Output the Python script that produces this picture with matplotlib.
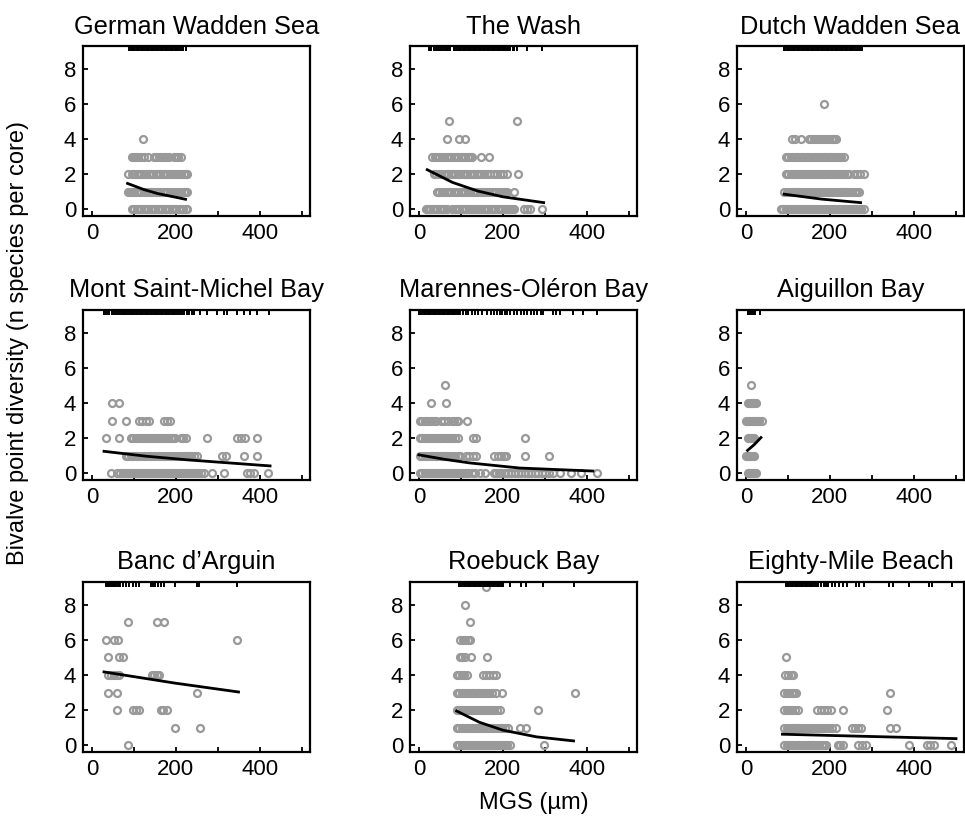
import matplotlib
matplotlib.use("Agg")
import matplotlib.pyplot as plt

plt.rcParams['font.family'] = ['Liberation Sans', 'DejaVu Sans']

# ---- data: MGS values (um) per diversity level (index = n species per core)
german_mgs = [
    [96, 101, 107, 112, 118, 123, 129, 134, 140, 145, 151, 157, 162, 168, 173, 179, 184, 190, 196, 201, 207, 212, 218, 223, 227],
    [85, 90, 96, 101, 107, 113, 118, 124, 129, 135, 141, 146, 152, 157, 163, 169, 174, 180, 185, 191, 197, 202, 208, 213, 219, 224, 227],
    [85, 96, 101, 107, 113, 118, 124, 129, 135, 141, 146, 152, 157, 163, 169, 174, 180, 185, 191, 197, 202, 208, 213, 219, 224, 227],
    [96, 101, 106, 111, 117, 124, 133, 148, 153, 159, 165, 171, 177, 183, 195, 200, 205, 211],
    [122],
]
german_rug = [89, 92, 95, 98, 101, 104, 107, 110, 113, 116, 119, 122, 125, 128, 131, 134, 137, 140, 143, 146, 149, 152,
              155, 158, 161, 164, 167, 170, 173, 176, 179, 182, 185, 188, 191, 194, 197, 200, 203, 206, 210, 214, 218, 223]
german_fit_x = [85, 124, 156, 223]
german_fit_y = [1.47, 1.12, 0.90, 0.57]

wash_mgs = [
    [16, 22, 27, 33, 38, 44, 50, 55, 61, 67, 79, 85, 91, 96, 102, 108, 113, 119, 125, 131, 136, 142, 148, 154, 159, 165,
     171, 176, 182, 188, 193, 199, 205, 211, 217, 222, 226, 250, 258, 265, 293],
    [44, 49, 55, 60, 66, 72, 77, 83, 88, 94, 100, 105, 111, 117, 122, 128, 133, 139, 145, 150, 156, 162, 167, 173, 178,
     184, 190, 195, 201, 206, 210, 226],
    [36, 42, 47, 53, 59, 64, 70, 76, 81, 87, 93, 98, 104, 110, 115, 121, 127, 132, 138, 144, 149, 155, 161, 170, 178, 186,
     193, 201, 210, 237],
    [32, 38, 43, 49, 55, 60, 66, 72, 77, 83, 89, 94, 100, 106, 111, 117, 122, 127, 147, 166],
    [68, 95, 110],
    [71, 234],
]
wash_rug = [24, 27, 30, 36, 40, 45, 49, 53, 58, 62, 66, 70, 75, 83, 86, 89, 92, 95, 98, 101, 104, 107, 110, 113, 116, 119,
            122, 125, 128, 131, 134, 137, 140, 143, 146, 149, 152, 155, 158, 161, 164, 167, 170, 173, 176, 179, 182, 185,
            188, 191, 194, 197, 200, 203, 206, 209, 212, 215, 218, 223, 227, 234, 257, 293]
wash_fit_x = [20, 80, 140, 200, 297]
wash_fit_y = [2.25, 1.53, 1.04, 0.71, 0.38]

dutch_mgs = [
    [83, 89, 95, 101, 107, 113, 119, 125, 131, 137, 143, 149, 155, 161, 167, 173, 179, 185, 191, 197, 203, 209, 215, 221,
     227, 233, 239, 245, 251, 257, 263, 269, 275, 281],
    [91, 97, 103, 109, 115, 121, 127, 133, 139, 145, 151, 157, 163, 169, 175, 181, 187, 193, 199, 205, 211, 217, 223, 229,
     235, 241, 247, 253, 259, 265, 269],
    [95, 101, 107, 113, 119, 125, 131, 137, 143, 149, 155, 161, 167, 173, 179, 185, 191, 197, 203, 209, 215, 221, 227, 233,
     240, 246, 257, 264, 272, 281],
    [95, 101, 107, 113, 119, 125, 131, 137, 143, 149, 155, 161, 167, 173, 179, 185, 191, 197, 203, 209, 215, 221, 227, 234],
    [111, 118, 131, 150, 156, 162, 168, 174, 180, 186, 192, 198, 204, 210, 214],
    [],
    [186],
]
dutch_rug = [91, 94, 97, 100, 103, 106, 109, 112, 115, 118, 121, 124, 127, 130, 133, 136, 139, 142, 145, 148, 151, 154, 157,
             160, 163, 166, 169, 172, 175, 178, 181, 184, 187, 190, 193, 196, 199, 202, 205, 208, 211, 214, 217, 220, 223,
             226, 229, 232, 235, 238, 241, 244, 247, 250, 253, 256, 260, 264, 268, 272, 277]
dutch_fit_x = [91, 180, 273]
dutch_fit_y = [0.86, 0.58, 0.38]

msm_mgs = [
    [45, 61, 67, 73, 79, 85, 91, 97, 103, 109, 115, 121, 127, 133, 139, 145, 151, 157, 163, 169, 175, 181, 187, 193, 199,
     205, 211, 217, 223, 229, 235, 241, 247, 253, 259, 266, 286, 314, 369, 377, 385, 420],
    [81, 87, 93, 99, 105, 111, 117, 123, 129, 135, 141, 147, 153, 159, 165, 171, 177, 183, 189, 195, 201, 207, 213, 219,
     225, 231, 237, 243, 251, 310, 320, 361, 393],
    [33, 65, 92, 98, 104, 110, 116, 122, 128, 134, 140, 146, 152, 158, 164, 170, 176, 182, 188, 194, 199, 211, 217, 223,
     274, 345, 355, 365, 393],
    [49, 81, 112, 120, 128, 136, 172, 180, 187],
    [49, 65],
]
msm_rug = [29, 33, 38, 42, 48, 52, 57, 62, 66, 72, 76, 80, 84, 88, 92, 96, 100, 104, 108, 112, 116, 120, 124, 128, 132, 136,
           140, 144, 148, 152, 156, 160, 164, 168, 172, 176, 180, 184, 188, 192, 196, 200, 205, 210, 215, 220, 226, 232,
           238, 243, 258, 274, 298, 314, 322, 346, 361, 377, 393, 421]
msm_fit_x = [29, 130, 230, 424]
msm_fit_y = [1.25, 0.97, 0.76, 0.42]

marennes_mgs = [
    [2, 8, 14, 20, 26, 32, 38, 44, 50, 56, 62, 68, 74, 80, 86, 92, 98, 104, 112, 118, 126, 134, 146, 158, 178, 184, 190,
     196, 204, 212, 220, 228, 236, 244, 252, 260, 268, 276, 284, 292, 300, 310, 320, 335, 363, 386, 425],
    [2, 8, 14, 20, 26, 32, 38, 44, 50, 56, 62, 68, 74, 80, 86, 92, 97, 113, 120, 130, 137, 180, 188, 196, 203, 208, 252,
     309],
    [2, 8, 14, 20, 26, 32, 38, 44, 50, 56, 62, 68, 74, 80, 86, 93, 129, 137, 252],
    [2, 8, 14, 20, 26, 32, 38, 41, 53, 60, 70, 78, 84, 90, 93, 114],
    [29, 65],
    [63],
]
marennes_rug = [0, 3, 6, 9, 12, 15, 18, 21, 24, 27, 30, 33, 36, 39, 42, 45, 48, 51, 54, 57, 60, 63, 66, 69, 72, 75, 78, 81,
                84, 87, 90, 93, 96, 99, 104, 112, 118, 126, 134, 140, 150, 162, 172, 180, 186, 192, 198, 204, 210, 218,
                226, 234, 242, 250, 258, 266, 274, 282, 290, 296, 318, 327, 335, 367, 391, 425]
marennes_fit_x = [0, 60, 121, 240, 414]
marennes_fit_y = [1.05, 0.80, 0.59, 0.30, 0.13]

aiguillon_mgs = [
    [4, 8, 12, 16, 20, 24],
    [0, 4, 8, 12, 16, 20],
    [4, 8, 12, 16, 20],
    [0, 4, 8, 12, 16, 20, 24, 28, 32, 38],
    [4, 8, 12, 16, 20, 24],
    [12],
]
aiguillon_rug = [4, 6, 8, 10, 12, 14, 16, 18, 20, 22, 34]
aiguillon_fit_x = [4, 20, 36]
aiguillon_fit_y = [1.30, 1.63, 2.03]

banc_mgs = [
    [87],
    [197, 257],
    [61, 97, 104, 112, 164, 170, 178],
    [39, 59, 249],
    [38, 45, 52, 60, 65, 142, 148, 155, 160],
    [39, 65, 73],
    [33, 53, 63, 346],
    [86, 155, 171],
]
banc_rug = [33, 35, 37, 39, 41, 43, 45, 47, 50, 53, 56, 60, 64, 68, 73, 81, 89, 97, 105, 112, 140, 145, 150, 158, 165, 172,
            199, 250, 254, 346]
banc_fit_x = [29, 199, 349]
banc_fit_y = [4.17, 3.53, 3.03]

roebuck_mgs = [
    [90, 96, 102, 108, 114, 120, 126, 132, 138, 144, 150, 156, 162, 168, 174, 180, 186, 192, 198, 204, 210, 216, 298],
    [90, 96, 102, 108, 114, 120, 126, 132, 138, 144, 150, 156, 162, 168, 174, 180, 186, 192, 198, 204, 212, 240, 256],
    [90, 96, 102, 108, 114, 120, 126, 132, 138, 144, 150, 156, 162, 168, 174, 180, 186, 193, 283],
    [90, 96, 102, 108, 114, 120, 126, 132, 138, 144, 150, 156, 162, 168, 174, 183, 198, 372],
    [90, 96, 102, 108, 114, 152, 160, 168, 176, 183],
    [97, 103, 109, 123, 162],
    [98, 104, 110, 116, 121],
    [122],
    [109],
    [160],
]
roebuck_rug = [95, 98, 101, 104, 107, 110, 113, 116, 119, 122, 125, 128, 131, 134, 137, 140, 143, 146, 149, 152, 155, 158,
               161, 164, 167, 170, 173, 176, 179, 182, 185, 188, 191, 194, 197, 200, 216, 244, 256, 295, 368]
roebuck_fit_x = [90, 144, 200, 280, 368]
roebuck_fit_y = [1.95, 1.31, 0.86, 0.48, 0.25]

eighty_mgs = [
    [91, 97, 103, 109, 115, 121, 127, 133, 139, 145, 151, 157, 163, 169, 175, 181, 187, 190, 220, 225, 230, 268, 276, 285,
     387, 431, 439, 447, 489],
    [91, 97, 103, 109, 115, 121, 127, 133, 139, 145, 151, 157, 163, 169, 175, 181, 187, 193, 199, 205, 214, 252, 260, 268,
     275, 342, 358],
    [91, 97, 103, 109, 116, 123, 170, 178, 186, 194, 202, 232, 337],
    [91, 97, 103, 109, 115, 119, 342],
    [93, 100, 107, 113],
    [95],
]
eighty_rug = [95, 98, 101, 104, 107, 110, 113, 116, 119, 122, 125, 128, 131, 134, 137, 140, 143, 146, 149, 152, 155, 158,
              161, 166, 172, 178, 185, 190, 196, 205, 212, 222, 230, 240, 262, 270, 281, 341, 349, 388, 436, 444, 491]
eighty_fit_x = [87, 300, 500]
eighty_fit_y = [0.63, 0.50, 0.38]

titles = ["German Wadden Sea", "The Wash", "Dutch Wadden Sea",
          "Mont Saint-Michel Bay", "Marennes-Ol\u00e9ron Bay", "Aiguillon Bay",
          "Banc d\u2019Arguin", "Roebuck Bay", "Eighty-Mile Beach"]
panels = [
    (german_mgs, german_rug, german_fit_x, german_fit_y),
    (wash_mgs, wash_rug, wash_fit_x, wash_fit_y),
    (dutch_mgs, dutch_rug, dutch_fit_x, dutch_fit_y),
    (msm_mgs, msm_rug, msm_fit_x, msm_fit_y),
    (marennes_mgs, marennes_rug, marennes_fit_x, marennes_fit_y),
    (aiguillon_mgs, aiguillon_rug, aiguillon_fit_x, aiguillon_fit_y),
    (banc_mgs, banc_rug, banc_fit_x, banc_fit_y),
    (roebuck_mgs, roebuck_rug, roebuck_fit_x, roebuck_fit_y),
    (eighty_mgs, eighty_rug, eighty_fit_x, eighty_fit_y),
]

fig = plt.figure(figsize=(9.65, 8.23), dpi=100)
W, H = 965.0, 823.0
col_left = [83, 410, 737]
row_top = [46, 310, 582]
ax_w, ax_h = 227, 170

ylo, yhi = -0.38, 9.28
for i, (title, (mgs, rug, fx, fy)) in enumerate(zip(titles, panels)):
    r, c = divmod(i, 3)
    ax = fig.add_axes([col_left[c] / W, 1 - (row_top[r] + ax_h) / H, ax_w / W, ax_h / H])
    for level, xs in enumerate(mgs):
        ax.plot(xs, [level] * len(xs), linestyle='none', marker='o', markersize=5.0,
                markerfacecolor='none', markeredgecolor='#999999', markeredgewidth=1.6)
    ax.plot(fx, fy, color='black', linewidth=2.0)
    ax.vlines(rug, 8.98, yhi, color='black', linewidth=1.4)
    ax.set_xlim(-21, 519)
    ax.set_ylim(ylo, yhi)
    ax.set_xticks([0, 100, 200, 300, 400, 500])
    ax.set_xticklabels(['0', '', '200', '', '400', ''])
    ax.set_yticks([0, 2, 4, 6, 8])
    ax.tick_params(direction='in', length=3.5, width=1.3, labelsize=16, pad=5)
    for sp in ax.spines.values():
        sp.set_linewidth(1.6)
    ax.set_title(title, fontsize=18.3, pad=9)

fig.text(0.019, 0.583, 'Bivalve point diversity (n species per core)', rotation=90,
         ha='center', va='center', fontsize=17)
fig.text(0.553, 0.024, 'MGS (\u00b5m)', ha='center', va='center', fontsize=17)

fig.savefig('out.png', dpi=100)
